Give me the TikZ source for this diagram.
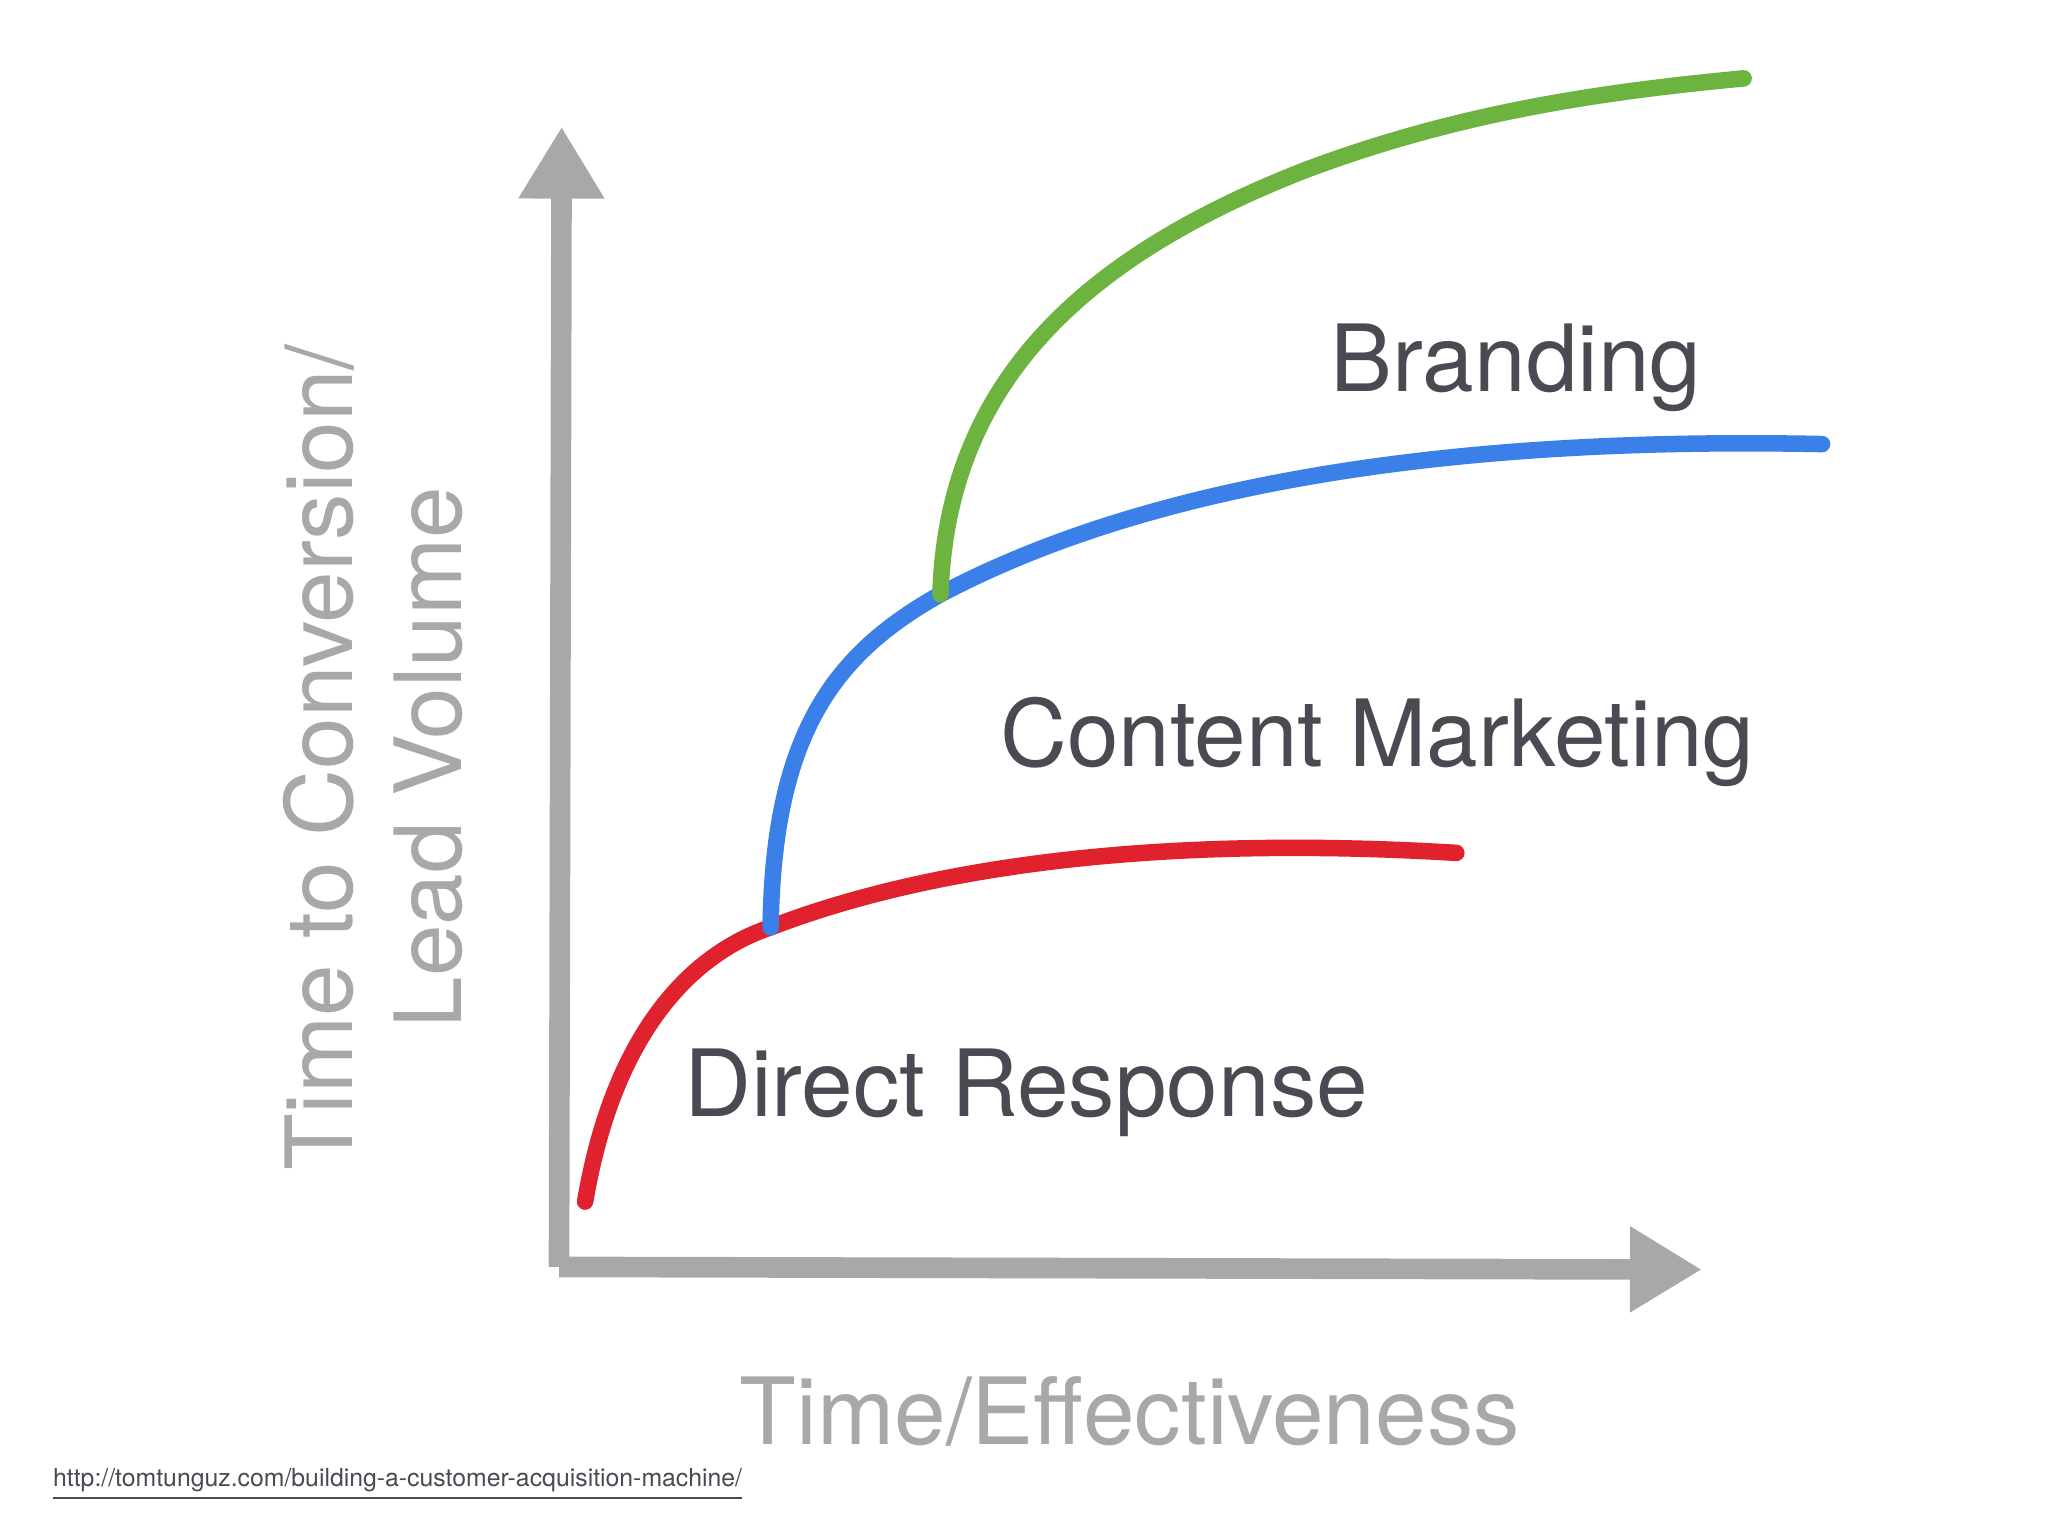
\documentclass[tikz,border=0pt]{standalone}
\usepackage{fontspec}
\setmainfont{TeX Gyre Heros}
\usetikzlibrary{arrows.meta}
\definecolor{axisgray}{HTML}{A8A8A8}
\definecolor{labgray}{HTML}{4A4B52}
\definecolor{cred}{HTML}{E0222E}
\definecolor{cblue}{HTML}{3B7FE8}
\definecolor{cgreen}{HTML}{6DB33F}
\begin{document}
\begin{tikzpicture}[x=0.01cm,y=-0.01cm,
  axis/.style={draw=axisgray,line width=4.5pt,-{Triangle[length=0.55cm,width=0.62cm]}},
  curve/.style={line width=3.6pt,line cap=round},
  lab/.style={text=labgray,font=\fontsize{20.2}{24}\selectfont,anchor=base west,inner sep=0},
  axlab/.style={text=axisgray,font=\fontsize{20.2}{24}\selectfont,inner sep=0}]
\fill[white] (0,0) rectangle (1568,1176);
\useasboundingbox (0,0) rectangle (1568,1176);
\coordinate (o) at (428,970);
\coordinate (ytip) at (430,97);
\coordinate (xtip) at (1303,972);
\draw[axis] (o) -- (ytip);
\draw[axis] (o) -- (xtip);
% curves
\coordinate (r0) at (448,920);
\coordinate (r1) at (590,710);
\coordinate (r2) at (1115,653);
\coordinate (b1) at (720,455);
\coordinate (b2) at (1395,340);
\coordinate (g2) at (1335,60);
\draw[curve,cred] (r0) .. controls (470,790) and (530,730) .. (r1)
  .. controls (720,660) and (900,640) .. (r2);
\draw[curve,cblue] (r1) .. controls (592,560) and (640,500) .. (b1)
  .. controls (900,360) and (1150,335) .. (b2);
\draw[curve,cgreen] (b1) .. controls (725,300) and (820,200) .. (1000,130)
  .. controls (1120,85) and (1230,70) .. (g2);
% labels
\node[lab] (br) at (1018,300) {Branding};
\node[lab] (cm) at (765,587) {Content Marketing};
\node[lab] (dr) at (523,855) {Direct Response};
\node[axlab,anchor=base] (xl) at (865,1106) {Time/Effectiveness};
\node[axlab,rotate=90,anchor=base] (yl1) at (270,580) {Time to Conversion/};
\node[axlab,rotate=90,anchor=base] (yl2) at (353,580) {Lead Volume};
\node[text=labgray,font=\fontsize{5.4}{7}\selectfont,anchor=base west,inner sep=0] (url) at (40,1138) {\underline{http://tomtunguz.com/building-a-customer-acquisition-machine/}};
\end{tikzpicture}
\end{document}
